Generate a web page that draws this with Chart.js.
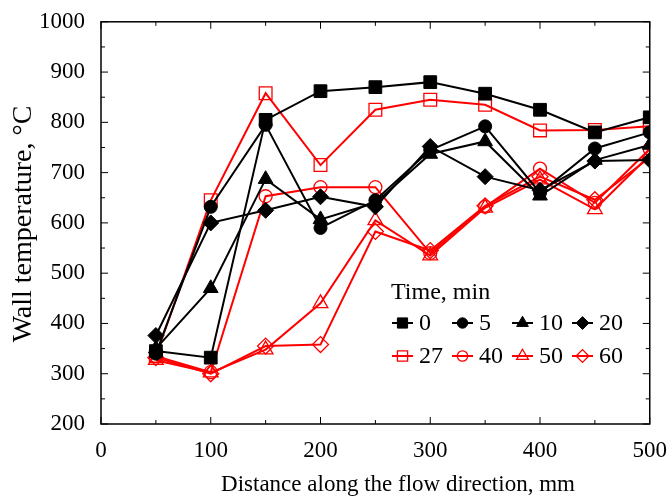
<!DOCTYPE html>
<html>
<head>
<meta charset="utf-8">
<script src="https://cdn.jsdelivr.net/npm/chart.js@4"></script>
<style>
  html, body { margin: 0; padding: 0; background: #fff; }
  #wrap { width: 672px; height: 503px; }
</style>
</head>
<body>
<div id="wrap"><canvas id="wallChart"></canvas></div>
<script>
const distances = [50, 100, 150, 200, 250, 300, 350, 400, 450, 500];
const t0 = [345, 332, 805, 862, 870, 880, 857, 825, 780, 810];
const t5 = [340, 632, 795, 590, 645, 745, 792, 660, 748, 780];
const t10 = [350, 470, 687, 607, 640, 737, 762, 654, 725, 755];
const t20 = [376, 600, 625, 652, 632, 752, 692, 665, 723, 725];
const t27 = [335, 645, 858, 715, 825, 845, 835, 784, 785, 792];
const t40 = [335, 303, 653, 671, 671, 540, 632, 708, 640, 747];
const t50 = [327, 302, 348, 440, 605, 535, 630, 686, 627, 735];
const t60 = [332, 300, 355, 358, 583, 545, 634, 692, 646, 730];
const timeLabels = ["0", "5", "10", "20", "27", "40", "50", "60"];
const xTitle = "Distance along the flow direction, mm";
const yTitle = "Wall temperature, °C";

const FONT = "'Liberation Serif', 'Times New Roman', serif";
const markerSize = { rect: 9, circle: 6.5, triangle: 8.5, rectRot: 8 };

function series(label, values, style, filled) {
  const color = filled ? "#000000" : "#ff0000";
  return {
    label: label,
    data: values.map((v, i) => ({ x: distances[i], y: v })),
    borderColor: color,
    borderWidth: 2,
    pointStyle: style,
    pointRadius: markerSize[style],
    pointBorderWidth: filled ? 1 : 1.3,
    pointBackgroundColor: filled ? color : "rgba(0,0,0,0)",
    pointBorderColor: color,
    tension: 0,
  };
}

// frame, inward ticks, axis titles and legend
const framePlugin = {
  id: "frame",
  afterDatasetsDraw(chart) {
    const { ctx, chartArea: a, scales } = chart;
    ctx.save();
    ctx.strokeStyle = "#000";
    ctx.lineWidth = 1.5;
    ctx.strokeRect(a.left, a.top, a.right - a.left, a.bottom - a.top);
    ctx.lineWidth = 1;
    for (let v = 0; v <= 500; v += 50) {
      const x = scales.x.getPixelForValue(v);
      const len = v % 100 === 0 ? 7 : 4;
      ctx.beginPath();
      ctx.moveTo(x, a.bottom); ctx.lineTo(x, a.bottom - len);
      ctx.moveTo(x, a.top); ctx.lineTo(x, a.top + len);
      ctx.stroke();
    }
    for (let v = 200; v <= 1000; v += 50) {
      const y = scales.y.getPixelForValue(v);
      const len = v % 100 === 0 ? 7 : 4;
      ctx.beginPath();
      ctx.moveTo(a.left, y); ctx.lineTo(a.left + len, y);
      ctx.moveTo(a.right, y); ctx.lineTo(a.right - len, y);
      ctx.stroke();
    }

    // axis titles
    ctx.fillStyle = "#000";
    ctx.textAlign = "center";
    ctx.textBaseline = "middle";
    ctx.font = "23px " + FONT;
    ctx.fillText(xTitle, 398, 485);
    ctx.save();
    ctx.translate(24, 224);
    ctx.rotate(-Math.PI / 2);
    ctx.font = "28px " + FONT;
    ctx.fillText(yTitle, 0, 0);
    ctx.restore();

    // legend
    ctx.font = "24px " + FONT;
    ctx.textAlign = "left";
    ctx.fillText("Time, min", 391, 293);
    chart.data.datasets.forEach((ds, i) => {
      const col = i % 4;
      const row = Math.floor(i / 4);
      const x0 = 392 + col * 60;
      const y0 = 323 + row * 33;
      ctx.strokeStyle = ds.borderColor;
      ctx.lineWidth = 2;
      ctx.beginPath();
      ctx.moveTo(x0, y0); ctx.lineTo(x0 + 21, y0);
      ctx.stroke();
      ctx.fillStyle = ds.pointBackgroundColor;
      ctx.strokeStyle = ds.pointBorderColor;
      ctx.lineWidth = ds.pointBorderWidth;
      Chart.helpers.drawPoint(ctx, {
        pointStyle: ds.pointStyle,
        radius: ds.pointRadius * 0.8,
        borderWidth: ds.pointBorderWidth,
        rotation: 0,
      }, x0 + 10.5, y0);
      ctx.fillStyle = "#000";
      ctx.fillText(ds.label, x0 + 27, y0 + 1);
    });
    ctx.restore();
  },
};

new Chart(document.getElementById("wallChart"), {
  type: "line",
  data: {
    datasets: [
      series(timeLabels[0], t0, "rect", true),
      series(timeLabels[1], t5, "circle", true),
      series(timeLabels[2], t10, "triangle", true),
      series(timeLabels[3], t20, "rectRot", true),
      series(timeLabels[4], t27, "rect", false),
      series(timeLabels[5], t40, "circle", false),
      series(timeLabels[6], t50, "triangle", false),
      series(timeLabels[7], t60, "rectRot", false),
    ],
  },
  options: {
    responsive: true,
    maintainAspectRatio: false,
    animation: false,
    layout: { padding: { top: 19, right: 20, left: 0, bottom: 0 } },
    plugins: { legend: { display: false }, tooltip: { enabled: false } },
    scales: {
      x: {
        type: "linear",
        min: 0,
        max: 500,
        grid: { display: false },
        border: { display: false },
        ticks: {
          stepSize: 100,
          padding: 5,
          color: "#000",
          font: { family: FONT, size: 23 },
          maxRotation: 0,
          callback: (v) => String(v),
        },
        afterFit(scale) { scale.height = 79; },
      },
      y: {
        min: 200,
        max: 1000,
        grid: { display: false },
        border: { display: false },
        ticks: {
          stepSize: 100,
          padding: 8,
          color: "#000",
          font: { family: FONT, size: 23 },
          callback: (v) => String(v),
        },
        afterFit(scale) { scale.width = 101; },
      },
    },
  },
  plugins: [framePlugin],
});
</script>
</body>
</html>
